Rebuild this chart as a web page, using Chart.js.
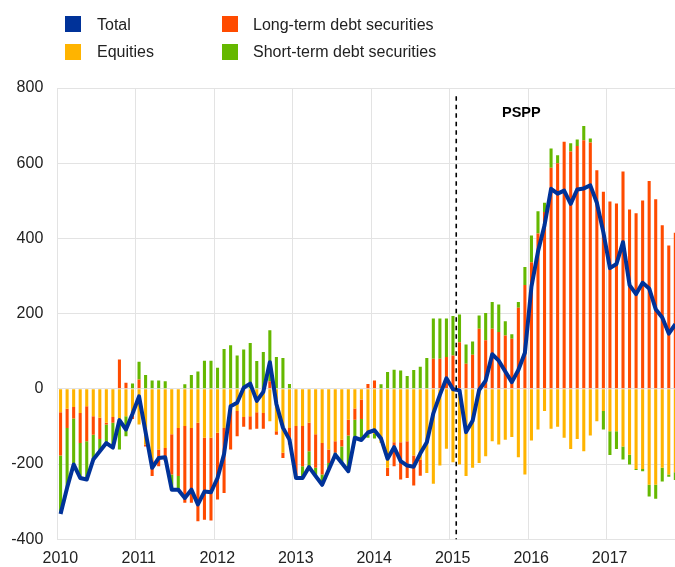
<!DOCTYPE html>
<html lang="en">
<head>
  <meta charset="UTF-8" />
  <title>Portfolio flows</title>
  <script src="https://cdn.jsdelivr.net/npm/chart.js"></script>
  <style>
    html, body { margin: 0; padding: 0; background: #fff; }
    #wrap { position: relative; width: 675px; height: 567px; font-family: "Liberation Sans", Arial, sans-serif; }
    #chart { position: absolute; left: 0; top: 0; }
    .key { position: absolute; width: 16px; height: 16px; }
    .lbl { position: absolute; font-size: 16px; line-height: 16px; color: #222; white-space: nowrap; }
  </style>
</head>
<body>
  <div id="wrap">
    <canvas id="chart" width="675" height="567"></canvas>

    <!-- legend -->
    <div class="key" style="left:65px;top:16px;background:#003299"></div>
    <div class="lbl" style="left:97px;top:16.5px">Total</div>
    <div class="key" style="left:222px;top:16px;background:#ff4b00"></div>
    <div class="lbl" style="left:253px;top:16.5px">Long-term debt securities</div>
    <div class="key" style="left:65px;top:43.5px;background:#ffb400"></div>
    <div class="lbl" style="left:97px;top:44px">Equities</div>
    <div class="key" style="left:222px;top:43.5px;background:#65b800"></div>
    <div class="lbl" style="left:253px;top:44px">Short-term debt securities</div>
  </div>

  <script>
    // monthly, Jan 2010 - Nov 2017
    const years = ['2010', '2011', '2012', '2013', '2014', '2015', '2016', '2017'];

    const equities = [
      -62, -53, -48, -64, -46, -73, -77, -90, -75, -82, -73, -70,
      -95, -148, -190, -161, -157, -121, -104, -99, -104, -90, -130, -130,
      -117, -104, -55, -59, -75, -73, -62, -64, -86, -113, -170, -104,
      -99, -99, -90, -121, -144, -161, -139, -135, -82, -52, -28, -121,
      -120, -144, -210, -142, -142, -139, -177, -188, -224, -252, -204, -159,
      -195, -201, -232, -210, -197, -179, -139, -148, -135, -128, -182, -228,
      -137, -108, -59, -106, -101, -130, -160, -133, -166, -124, -86, -59,
      -113, -113, -153, -175, -213, -213, -255, -255, -210, -228, -222
    ];

    const longTerm = [
      -115, -51, -31, -80, -93, -49, -56, -5, -15, 78, 16, -10,
      25, -5, -42, -45, -35, -107, -128, -204, -199, -262, -218, -220,
      -177, -173, -106, -67, -26, -35, -44, -42, 20, -9, -14, -44,
      -138, -107, -76, -89, -84, -36, -31, -18, -42, -30, -52, 13,
      22, 0, -22, -64, -99, -98, -80, -43, 0, 80, 80, 85,
      89, 124, 67, 91, 160, 129, 160, 151, 142, 133, 216, 276,
      337, 413, 470, 588, 600, 657, 631, 646, 661, 655, 581, 524,
      498, 493, 578, 477, 467, 501, 553, 504, 435, 381, 415
    ];

    const shortTerm = [
      -153, -159, -122, -93, -102, -66, -33, -49, -66, -79, -53, 14,
      47, 37, 22, 22, 20, -40, -36, 12, 37, 46, 75, 75,
      56, 106, 116, 89, 105, 122, 74, 98, 136, 85, 82, 13,
      0, -31, -44, -22, -27, -18, -5, -44, -95, -48, -55, -9,
      -12, 12, 45, 51, 49, 34, 50, 59, 82, 107, 107, 102,
      105, 74, 51, 35, 35, 73, 71, 73, 38, 12, 15, 48,
      71, 59, 25, 51, 21, 0, 22, 17, 38, 11, 0, -49,
      -63, -47, -35, -26, -3, -6, -31, -37, -36, -6, -20
    ];

    const total = [
      -333, -263, -201, -237, -241, -188, -166, -144, -156, -83, -108, -66,
      -20, -115, -210, -184, -182, -268, -268, -290, -268, -307, -273, -275,
      -237, -173, -46, -37, 3, 14, -32, -8, 71, -40, -103, -135,
      -237, -237, -208, -232, -255, -215, -175, -197, -219, -130, -136, -116,
      -110, -132, -186, -155, -192, -204, -207, -172, -142, -65, -16, 28,
      -1, -4, -115, -85, -3, 22, 92, 75, 46, 18, 50, 96,
      272, 365, 435, 532, 519, 527, 492, 530, 533, 541, 495, 416,
      321, 332, 390, 276, 252, 282, 267, 212, 190, 147, 172
    ];

    const psppStart = 61;   // months since Jan 2010
    const psppLabel = 'PSPP';

    // x = middle of each month on a month axis
    const pts = arr => arr.map((v, i) => ({ x: i + 0.5, y: v }));

    const gridColor = '#e3e3e3';
    Chart.defaults.font.family = '"Liberation Sans", Arial, sans-serif';
    Chart.defaults.font.size = 16;
    Chart.defaults.color = '#222';

    // dashed PSPP marker
    const psppLine = {
      id: 'psppLine',
      afterDatasetsDraw(chart) {
        const { ctx, scales: { x, y } } = chart;
        const px = x.getPixelForValue(psppStart);
        ctx.save();
        ctx.strokeStyle = '#000';
        ctx.lineWidth = 1.6;
        ctx.setLineDash([4.5, 4]);
        ctx.beginPath();
        ctx.moveTo(px, y.getPixelForValue(778));
        ctx.lineTo(px, y.bottom);
        ctx.stroke();
        ctx.setLineDash([]);
        ctx.font = 'bold 14.5px "Liberation Sans", Arial, sans-serif';
        ctx.fillStyle = '#000';
        ctx.textBaseline = 'alphabetic';
        ctx.fillText(psppLabel, x.getPixelForValue(68), y.getPixelForValue(724));
        ctx.restore();
      }
    };

    const bar = (label, data, color) => ({
      type: 'bar',
      label,
      data: pts(data),
      backgroundColor: color,
      stack: 'flows',
      order: 1,
      barPercentage: 0.47,
      categoryPercentage: 1
    });

    new Chart(document.getElementById('chart'), {
      data: {
        datasets: [
          {
            type: 'line',
            label: 'Total',
            data: pts(total),
            borderColor: '#003299',
            borderWidth: 4,
            pointRadius: 0,
            tension: 0,
            borderJoinStyle: 'round',
            stack: 'total',
            order: 0
          },
          bar('Equities', equities, '#ffb400'),
          bar('Long-term debt securities', longTerm, '#ff4b00'),
          bar('Short-term debt securities', shortTerm, '#65b800')
        ]
      },
      options: {
        responsive: false,
        animation: false,
        layout: { padding: { top: 88, right: 0, left: 0, bottom: 0 } },
        plugins: { legend: { display: false }, tooltip: { enabled: false } },
        scales: {
          x: {
            type: 'linear',
            min: 0,
            max: 94.45,
            offset: false,
            grid: { color: gridColor, drawTicks: false, offset: false },
            border: { display: false },
            ticks: {
              stepSize: 12,
              includeBounds: false,
              autoSkip: false,
              maxRotation: 0,
              padding: 10,
              labelOffset: 3,
              callback: v => (v % 12 === 0 ? years[v / 12] : '')
            },
            afterFit: s => { s.height = 27.7; }
          },
          y: {
            stacked: true,
            min: -400,
            max: 800,
            grid: { color: gridColor, drawTicks: false },
            border: { display: false },
            ticks: { stepSize: 200, padding: 14 },
            afterFit: s => { s.width = 57.3; }
          }
        }
      },
      plugins: [psppLine]
    });
  </script>
</body>
</html>
